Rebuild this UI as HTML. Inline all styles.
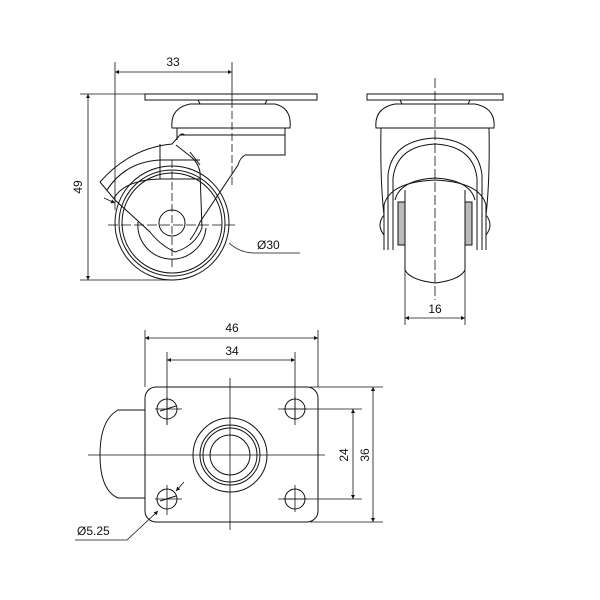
<!DOCTYPE html>
<html><head><style>body{margin:0;background:#fff}svg{display:block}</style></head><body>
<svg width="600" height="600" viewBox="0 0 600 600" xmlns="http://www.w3.org/2000/svg" font-family="Liberation Sans, sans-serif" font-size="12" fill="none" stroke="#111" stroke-width="1">
<defs><marker id="a" viewBox="0 0 10 10" refX="10" refY="5" markerWidth="7" markerHeight="5" orient="auto-start-reverse"><path d="M0,0L10,5L0,10z" fill="#111" stroke="none"/></marker></defs>
<!-- SIDE VIEW -->
<g stroke-width="0.8">
<line x1="115" y1="62" x2="115" y2="210"/><line x1="232" y1="62" x2="232" y2="100"/>
<line x1="115" y1="72" x2="232" y2="72" marker-start="url(#a)" marker-end="url(#a)"/>
<line x1="80" y1="94" x2="145" y2="94"/><line x1="80" y1="280" x2="175" y2="280"/>
<line x1="88" y1="94" x2="88" y2="280" marker-start="url(#a)" marker-end="url(#a)"/>
<line x1="232" y1="100" x2="232" y2="185" stroke-dasharray="8,3"/>
<line x1="172" y1="160" x2="172" y2="270" stroke-dasharray="8,3"/>
<line x1="108" y1="225" x2="236" y2="225" stroke-dasharray="10,3"/>
<path d="M229,243 Q240,253 255,253 L300,253"/>
<path d="M104,198 L115,203" marker-end="url(#a)"/>
</g>
<text x="173" y="66" text-anchor="middle" fill="#111" stroke="none">33</text>
<text transform="translate(82,187) rotate(-90)" text-anchor="middle" fill="#111" stroke="none">49</text>
<text x="257" y="249" fill="#111" stroke="none">Ø30</text>
<rect x="145" y="94" width="172" height="6"/>
<path d="M198,100 L200,104 L265,104 L267,100"/>
<path d="M172,128 Q170,108 190,104 L275,104 Q292,108 290,128 Z"/>
<path d="M177,128 L177,140 M285,128 L285,155 L245,155 M180,135 L285,135"/>
<circle cx="172" cy="223" r="57"/><circle cx="172" cy="223" r="53"/><circle cx="172" cy="223" r="50"/>
<path d="M138,222 A34,34 0 0 0 206,228" />
<circle cx="172" cy="223" r="13"/>
<path d="M100,182 Q130,148 172,144 L180,135 Q182,133 185,135 M245,155 Q240,158 238,165 L200,222 Q196,232 190,240"/>
<path d="M100,182 L115,200 L150,232 Q160,245 175,252 Q195,246 202,228 L200,172 Q198,162 190,156 L176,145"/>
<path d="M107,190 Q125,162 160,160 L200,160 M114,198 Q125,180 160,179 L200,179 M160,144 L160,179 M190,152 L200,165"/>
<!-- FRONT VIEW -->
<line x1="435" y1="78" x2="435" y2="300" stroke-width="0.8" stroke-dasharray="10,3"/>
<rect x="367" y="94" width="136" height="6"/>
<path d="M400,100 L402,104 L468,104 L470,100"/>
<path d="M376,128 Q374,108 395,104 L475,104 Q496,108 494,128 Z"/>
<path d="M381,128 Q380,180 384,215 M489,128 Q490,180 486,215"/>
<path d="M388,250 L388,175 Q392,140 435,138 Q478,140 482,175 L482,250"/>
<path d="M393,250 L393,178 Q397,146 435,144 Q473,146 477,178 L477,250"/>
<path d="M395,200 Q400,180 435,178 Q470,180 475,200"/>
<path d="M405,190 L405,270 Q410,280 435,283 Q460,280 465,270 L465,190"/>
<path d="M384,250 L384,205 Q390,182 435,180 Q480,182 486,205 L486,250"/>
<rect x="398" y="202" width="7" height="43" fill="#bbb"/><rect x="465" y="202" width="7" height="43" fill="#bbb"/>
<path d="M384,215 Q376,225 384,235 M486,215 Q494,225 486,235"/>
<g stroke-width="0.8"><line x1="405" y1="270" x2="405" y2="325"/><line x1="465" y1="270" x2="465" y2="325"/>
<line x1="405" y1="318" x2="465" y2="318" marker-start="url(#a)" marker-end="url(#a)"/></g>
<text x="435" y="313" text-anchor="middle" fill="#111" stroke="none">16</text>
<!-- BOTTOM VIEW -->
<g stroke-width="0.8">
<line x1="145" y1="330" x2="145" y2="387"/><line x1="318" y1="330" x2="318" y2="387"/>
<line x1="145" y1="338" x2="318" y2="338" marker-start="url(#a)" marker-end="url(#a)"/>
<line x1="167" y1="352" x2="167" y2="425"/><line x1="295" y1="352" x2="295" y2="425"/>
<line x1="167" y1="360" x2="295" y2="360" marker-start="url(#a)" marker-end="url(#a)"/>
<line x1="278" y1="409" x2="362" y2="409"/><line x1="278" y1="499" x2="362" y2="499"/>
<line x1="353" y1="409" x2="353" y2="499" marker-start="url(#a)" marker-end="url(#a)"/>
<line x1="310" y1="387" x2="383" y2="387"/><line x1="310" y1="522" x2="383" y2="522"/>
<line x1="373" y1="387" x2="373" y2="522" marker-start="url(#a)" marker-end="url(#a)"/>
<line x1="88" y1="455" x2="325" y2="455"/><line x1="230" y1="378" x2="230" y2="530"/>
<line x1="155" y1="409" x2="182" y2="409"/><line x1="167" y1="397" x2="167" y2="425"/>
<line x1="155" y1="499" x2="182" y2="499"/><line x1="167" y1="485" x2="167" y2="515"/>
<line x1="283" y1="499" x2="307" y2="499"/><line x1="295" y1="485" x2="295" y2="512"/>
<line x1="283" y1="409" x2="307" y2="409"/><line x1="295" y1="397" x2="295" y2="420"/>
<path d="M75,540 L127,540 L158,511" marker-end="url(#a)"/>
<path d="M184,482 L176,491" marker-end="url(#a)"/>
</g>
<text x="232" y="332" text-anchor="middle" fill="#111" stroke="none">46</text>
<text x="232" y="355" text-anchor="middle" fill="#111" stroke="none">34</text>
<text transform="translate(348,455) rotate(-90)" text-anchor="middle" fill="#111" stroke="none">24</text>
<text transform="translate(369,455) rotate(-90)" text-anchor="middle" fill="#111" stroke="none">36</text>
<text x="77" y="535" fill="#111" stroke="none">Ø5.25</text>
<rect x="145" y="387" width="173" height="135" rx="11"/>
<path d="M145,410 L118,410 Q100,420 100,455 Q100,490 118,498 L145,498"/>
<circle cx="167" cy="409" r="10"/><circle cx="167" cy="499" r="10"/>
<circle cx="295" cy="409" r="10"/><circle cx="295" cy="499" r="10"/>
<path d="M160,411 L176,406 M160,501 L176,496"/>
<circle cx="230" cy="455" r="37"/><circle cx="230" cy="455" r="30"/><circle cx="230" cy="455" r="27"/><circle cx="230" cy="455" r="20"/>
</svg>
</body></html>
